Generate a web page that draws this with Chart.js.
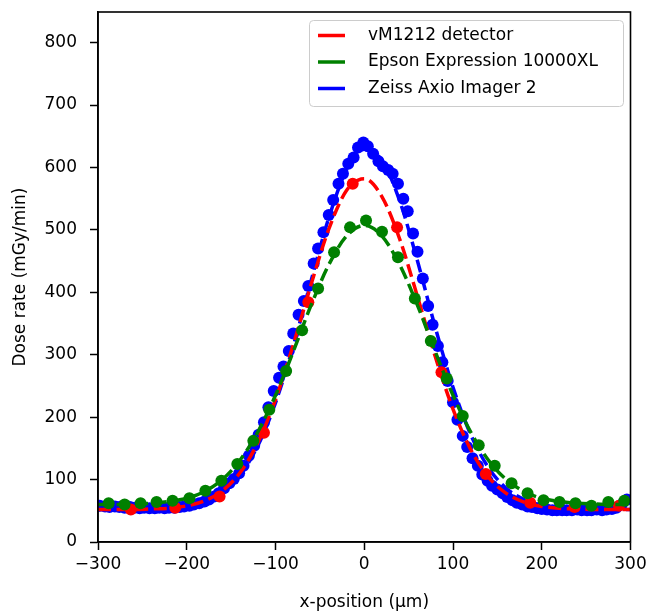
<!DOCTYPE html>
<html>
<head>
<meta charset="utf-8">
<title>Dose rate profile</title>
<script src="https://cdn.jsdelivr.net/npm/chart.js@4.4.0/dist/chart.umd.min.js"></script>
<style>
  html, body { margin: 0; padding: 0; background: #fff; }
  #wrap { width: 651px; height: 612px; }
</style>
</head>
<body>
<div id="wrap"><canvas id="myChart" width="651" height="612"></canvas></div>
<script>
// measured profiles, x in um, dose rate in mGy/min
const seriesNames = ['vM1212 detector', 'Epson Expression 10000XL', 'Zeiss Axio Imager 2'];
const seriesColors = ['#ff0000', '#008000', '#0000ff'];

const redX = [-263, -213, -163, -113, -63, -13, 37, 87, 137, 187, 237, 287];
const redY = [52, 55, 73, 175, 384, 574, 504, 272, 109, 63, 56, 58];

const greenX = [-288, -270, -252, -234, -216, -197, -179, -161, -143, -125, -107, -88, -70, -52, -34, -16, 2,
  20, 38, 57, 75, 93, 111, 129, 147, 166, 184, 202, 220, 238, 256, 275, 293];
const greenY = [62, 60, 62, 64, 66, 70, 82, 98, 125, 162, 212, 274, 339, 406, 464, 504, 515,
  497, 456, 390, 322, 262, 202, 155, 122, 94, 78, 67, 64, 62, 58, 64, 66];

const blueX = [-298, -292, -287, -281, -276, -270, -264, -259, -253, -248, -242, -236, -231, -225, -220, -214,
  -208, -203, -197, -192, -186, -180, -175, -169, -164, -158, -152, -147, -141, -136, -130, -124, -119, -113,
  -108, -102, -96, -91, -85, -80, -74, -68, -63, -57, -52, -46, -40, -35, -29, -24, -18, -12, -7, -1,
  4, 10, 16, 21, 27, 32, 38, 44, 49, 55, 60, 66, 72, 77, 83, 88, 94, 100, 105, 111, 116, 122, 128, 133,
  139, 144, 150, 156, 161, 167, 172, 178, 184, 189, 195, 200, 206, 212, 217, 223, 228, 234, 240, 245,
  251, 256, 262, 268, 273, 279, 284, 290, 296];
const blueY = [58, 57, 56, 57, 56, 55, 56, 55, 54, 55, 54, 54, 55, 54, 55, 55,
  56, 57, 58, 60, 62, 65, 68, 73, 78, 86, 94, 101, 110, 122, 138, 154, 172, 192,
  216, 242, 263, 281, 306, 334, 364, 386, 410, 446, 470, 496, 524, 548, 574, 590, 606, 616, 632, 640,
  634, 622, 610, 602, 596, 590, 574, 550, 530, 494, 465, 422, 378, 348, 314, 288, 258, 224, 196, 170, 152, 134, 122, 108,
  98, 90, 84, 78, 72, 67, 63, 60, 57, 56, 54, 53, 52, 51, 51, 51, 51, 51, 52, 51,
  51, 51, 52, 51, 52, 53, 55, 60, 68];

// fitted curves, read every 20 um
const fitX = [-300, -280, -260, -240, -220, -200, -180, -160, -140, -120, -100, -80, -60, -40, -20, 0,
  20, 40, 60, 80, 100, 120, 140, 160, 180, 200, 220, 240, 260, 280, 300];
const redFit = [52, 52, 52, 53, 54, 58, 66, 82, 111, 159, 228, 316, 412, 501, 563, 582,
  553, 485, 393, 297, 213, 148, 104, 78, 64, 57, 54, 53, 52, 52, 52];
const greenFit = [60, 60, 61, 62, 65, 70, 81, 100, 131, 176, 235, 305, 379, 444, 490, 507,
  490, 444, 379, 305, 235, 176, 131, 100, 81, 70, 65, 62, 61, 60, 60];
const blueFit = [52, 52, 52, 53, 54, 57, 64, 79, 107, 154, 223, 314, 418, 519, 596, 629,
  611, 546, 450, 344, 248, 172, 119, 86, 68, 59, 55, 53, 52, 52, 52];

const xTicks = [-300, -200, -100, 0, 100, 200, 300];
const yTicks = [0, 100, 200, 300, 400, 500, 600, 700, 800];

const FONT = 'DejaVu Sans';
const pts = (xs, ys) => xs.map((x, i) => ({ x: x, y: ys[i] }));
const minus = v => String(v).replace('-', '\u2212');

function scatterSet(name, xs, ys, color, order) {
  return {
    label: name, data: pts(xs, ys), order: order,
    showLine: false, pointRadius: 6, pointHoverRadius: 6,
    pointBackgroundColor: color, pointBorderWidth: 0, backgroundColor: color, borderColor: color
  };
}
function fitSet(name, ys, color, order) {
  return {
    label: name, data: pts(fitX, ys), order: order,
    showLine: true, pointRadius: 0, borderColor: color, borderWidth: 3.5,
    borderDash: [13, 5.6], cubicInterpolationMode: 'monotone', fill: false
  };
}

const data = {
  datasets: [
    scatterSet(seriesNames[1], greenX, greenY, seriesColors[1], 1),
    fitSet(seriesNames[1], greenFit, seriesColors[1], 2),
    scatterSet(seriesNames[0], redX, redY, seriesColors[0], 3),
    fitSet(seriesNames[0], redFit, seriesColors[0], 4),
    scatterSet(seriesNames[2], blueX, blueY, seriesColors[2], 5),
    fitSet(seriesNames[2], blueFit, seriesColors[2], 6)
  ]
};

// frame round the plot area plus a matplotlib-like legend box
const framePlugin = {
  id: 'frame',
  afterDatasetsDraw(chart) {
    const a = chart.chartArea, ctx = chart.ctx;
    ctx.save();
    ctx.strokeStyle = '#000';
    ctx.lineWidth = 1.6;
    ctx.strokeRect(a.left, a.top, a.right - a.left, a.bottom - a.top);
    ctx.restore();
  },
  afterDraw(chart) {
    const ctx = chart.ctx;
    const bx = 309.5, by = 20.5, bw = 314, bh = 86, r = 4;
    ctx.save();
    ctx.beginPath();
    ctx.moveTo(bx + r, by);
    ctx.arcTo(bx + bw, by, bx + bw, by + bh, r);
    ctx.arcTo(bx + bw, by + bh, bx, by + bh, r);
    ctx.arcTo(bx, by + bh, bx, by, r);
    ctx.arcTo(bx, by, bx + bw, by, r);
    ctx.closePath();
    ctx.fillStyle = 'rgba(255,255,255,0.8)';
    ctx.fill();
    ctx.strokeStyle = '#cccccc';
    ctx.lineWidth = 1;
    ctx.stroke();
    const rows = [35.5, 62, 88.5];
    ctx.font = '17px "' + FONT + '"';
    ctx.textBaseline = 'middle';
    seriesNames.forEach((name, i) => {
      ctx.strokeStyle = seriesColors[i];
      ctx.lineWidth = 3.5;
      ctx.beginPath();
      ctx.moveTo(318, rows[i]);
      ctx.lineTo(345, rows[i]);
      ctx.stroke();
      ctx.fillStyle = '#000';
      ctx.fillText(name, 368, rows[i]);
    });
    ctx.restore();
  }
};

const config = {
  type: 'scatter',
  data: data,
  options: {
    responsive: false,
    animation: false,
    devicePixelRatio: 1,
    layout: { padding: { left: 0, right: 20.5, top: 12, bottom: 0 } },
    plugins: { legend: { display: false }, tooltip: { enabled: false } },
    scales: {
      x: {
        type: 'linear', min: -300, max: 300,
        afterBuildTicks: s => { s.ticks = xTicks.map(v => ({ value: v })); },
        afterFit: s => { s.height = 70; s.paddingLeft = 0; s.paddingRight = 0; },
        ticks: { callback: minus, color: '#000', font: { family: FONT, size: 17 }, padding: 4, maxRotation: 0, autoSkip: false },
        grid: { drawOnChartArea: false, tickLength: 8, tickWidth: 1.5, tickColor: '#000' },
        border: { display: true, color: '#000', width: 1.6 },
        title: { display: true, text: 'x-position (\u03bcm)', color: '#000', font: { family: FONT, size: 17 }, padding: { top: 0, bottom: -1 } }
      },
      y: {
        type: 'linear', min: 0, max: 849,
        afterBuildTicks: s => { s.ticks = yTicks.map(v => ({ value: v })); },
        afterFit: s => { s.width = 98; s.paddingTop = 0; s.paddingBottom = 0; },
        ticks: { callback: minus, color: '#000', font: { family: FONT, size: 17 }, padding: 13 },
        grid: { drawOnChartArea: false, tickLength: 8, tickWidth: 1.5, tickColor: '#000' },
        border: { display: true, color: '#000', width: 1.6 },
        title: { display: true, text: 'Dose rate (mGy/min)', color: '#000', font: { family: FONT, size: 17 }, padding: { top: 10, bottom: 0 } }
      }
    }
  },
  plugins: [framePlugin]
};

window.onload = function() {
  const ctx = document.getElementById('myChart').getContext('2d');
  new Chart(ctx, config);
};
</script>
</body>
</html>
